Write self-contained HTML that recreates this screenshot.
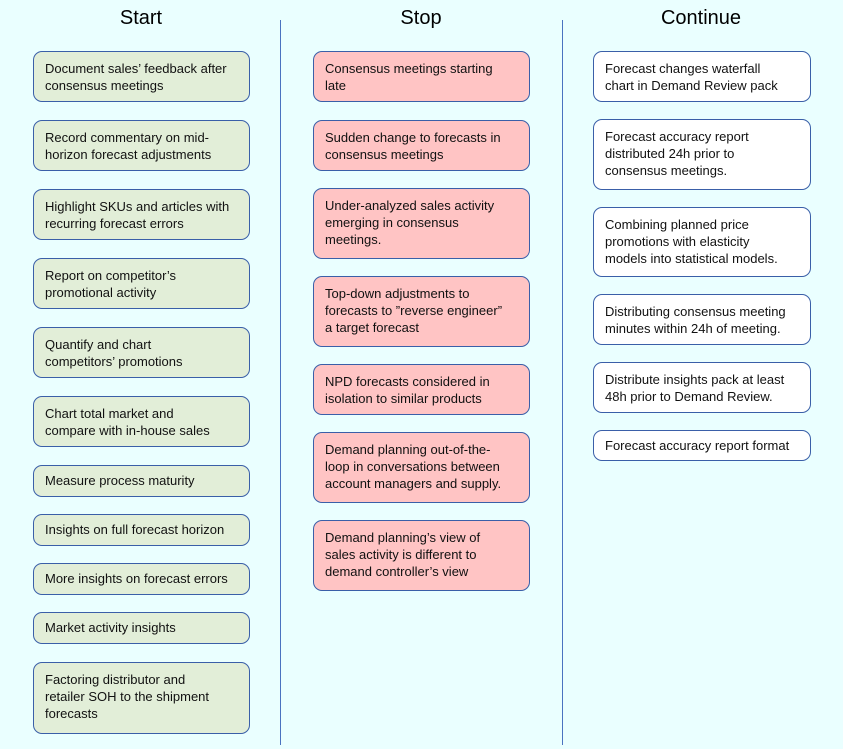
<!DOCTYPE html>
<html><head><style>
body{margin:0;width:843px;height:749px;background:#eaffff;position:relative;overflow:hidden;font-family:"Liberation Sans",sans-serif}
.h{position:absolute;top:7px;font-size:20px;text-align:center;width:216px;color:#000}
.v{position:absolute;top:20px;width:1px;height:725px;background:#4a73c0}
.b{position:absolute;box-sizing:border-box;border:1px solid #3a5fa8;border-radius:9px;font-size:13px;line-height:17px;padding:8px 4px 0 11px;white-space:nowrap;color:#111}
.s{padding-top:6px}
.g{background:#e2eed8;left:33px;width:217px}
.r{background:#ffc4c4;left:313px;width:217px}
.w{background:#fff;left:593px;width:218px}
</style></head><body>
<div class="h" style="left:33px">Start</div>
<div class="h" style="left:313px">Stop</div>
<div class="h" style="left:593px">Continue</div>
<div class="v" style="left:280px"></div>
<div class="v" style="left:562px"></div>

<div class="b g" style="top:51px;height:51px">Document sales’ feedback after<br>consensus meetings</div>
<div class="b g" style="top:120px;height:51px">Record commentary on mid-<br>horizon forecast adjustments</div>
<div class="b g" style="top:189px;height:51px">Highlight SKUs and articles with<br>recurring forecast errors</div>
<div class="b g" style="top:258px;height:51px">Report on competitor’s<br>promotional activity</div>
<div class="b g" style="top:327px;height:51px">Quantify and chart<br>competitors’ promotions</div>
<div class="b g" style="top:396px;height:51px">Chart total market and<br>compare with in-house sales</div>
<div class="b g s" style="top:465px;height:32px">Measure process maturity</div>
<div class="b g s" style="top:514px;height:32px">Insights on full forecast horizon</div>
<div class="b g s" style="top:563px;height:32px">More insights on forecast errors</div>
<div class="b g s" style="top:612px;height:32px">Market activity insights</div>
<div class="b g" style="top:662px;height:72px">Factoring distributor and<br>retailer SOH to the shipment<br>forecasts</div>

<div class="b r" style="top:51px;height:51px">Consensus meetings starting<br>late</div>
<div class="b r" style="top:120px;height:51px">Sudden change to forecasts in<br>consensus meetings</div>
<div class="b r" style="top:188px;height:71px">Under-analyzed sales activity<br>emerging in consensus<br>meetings.</div>
<div class="b r" style="top:276px;height:71px">Top-down adjustments to<br>forecasts to ”reverse engineer”<br>a target forecast</div>
<div class="b r" style="top:364px;height:51px">NPD forecasts considered in<br>isolation to similar products</div>
<div class="b r" style="top:432px;height:71px">Demand planning out-of-the-<br>loop in conversations between<br>account managers and supply.</div>
<div class="b r" style="top:520px;height:71px">Demand planning’s view of<br>sales activity is different to<br>demand controller’s view</div>

<div class="b w" style="top:51px;height:51px">Forecast changes waterfall<br>chart in Demand Review pack</div>
<div class="b w" style="top:119px;height:71px">Forecast accuracy report<br>distributed 24h prior to<br>consensus meetings.</div>
<div class="b w" style="top:207px;height:70px">Combining planned price<br>promotions with elasticity<br>models into statistical models.</div>
<div class="b w" style="top:294px;height:51px">Distributing consensus meeting<br>minutes within 24h of meeting.</div>
<div class="b w" style="top:362px;height:51px">Distribute insights pack at least<br>48h prior to Demand Review.</div>
<div class="b w s" style="top:430px;height:31px">Forecast accuracy report format</div>
</body></html>
